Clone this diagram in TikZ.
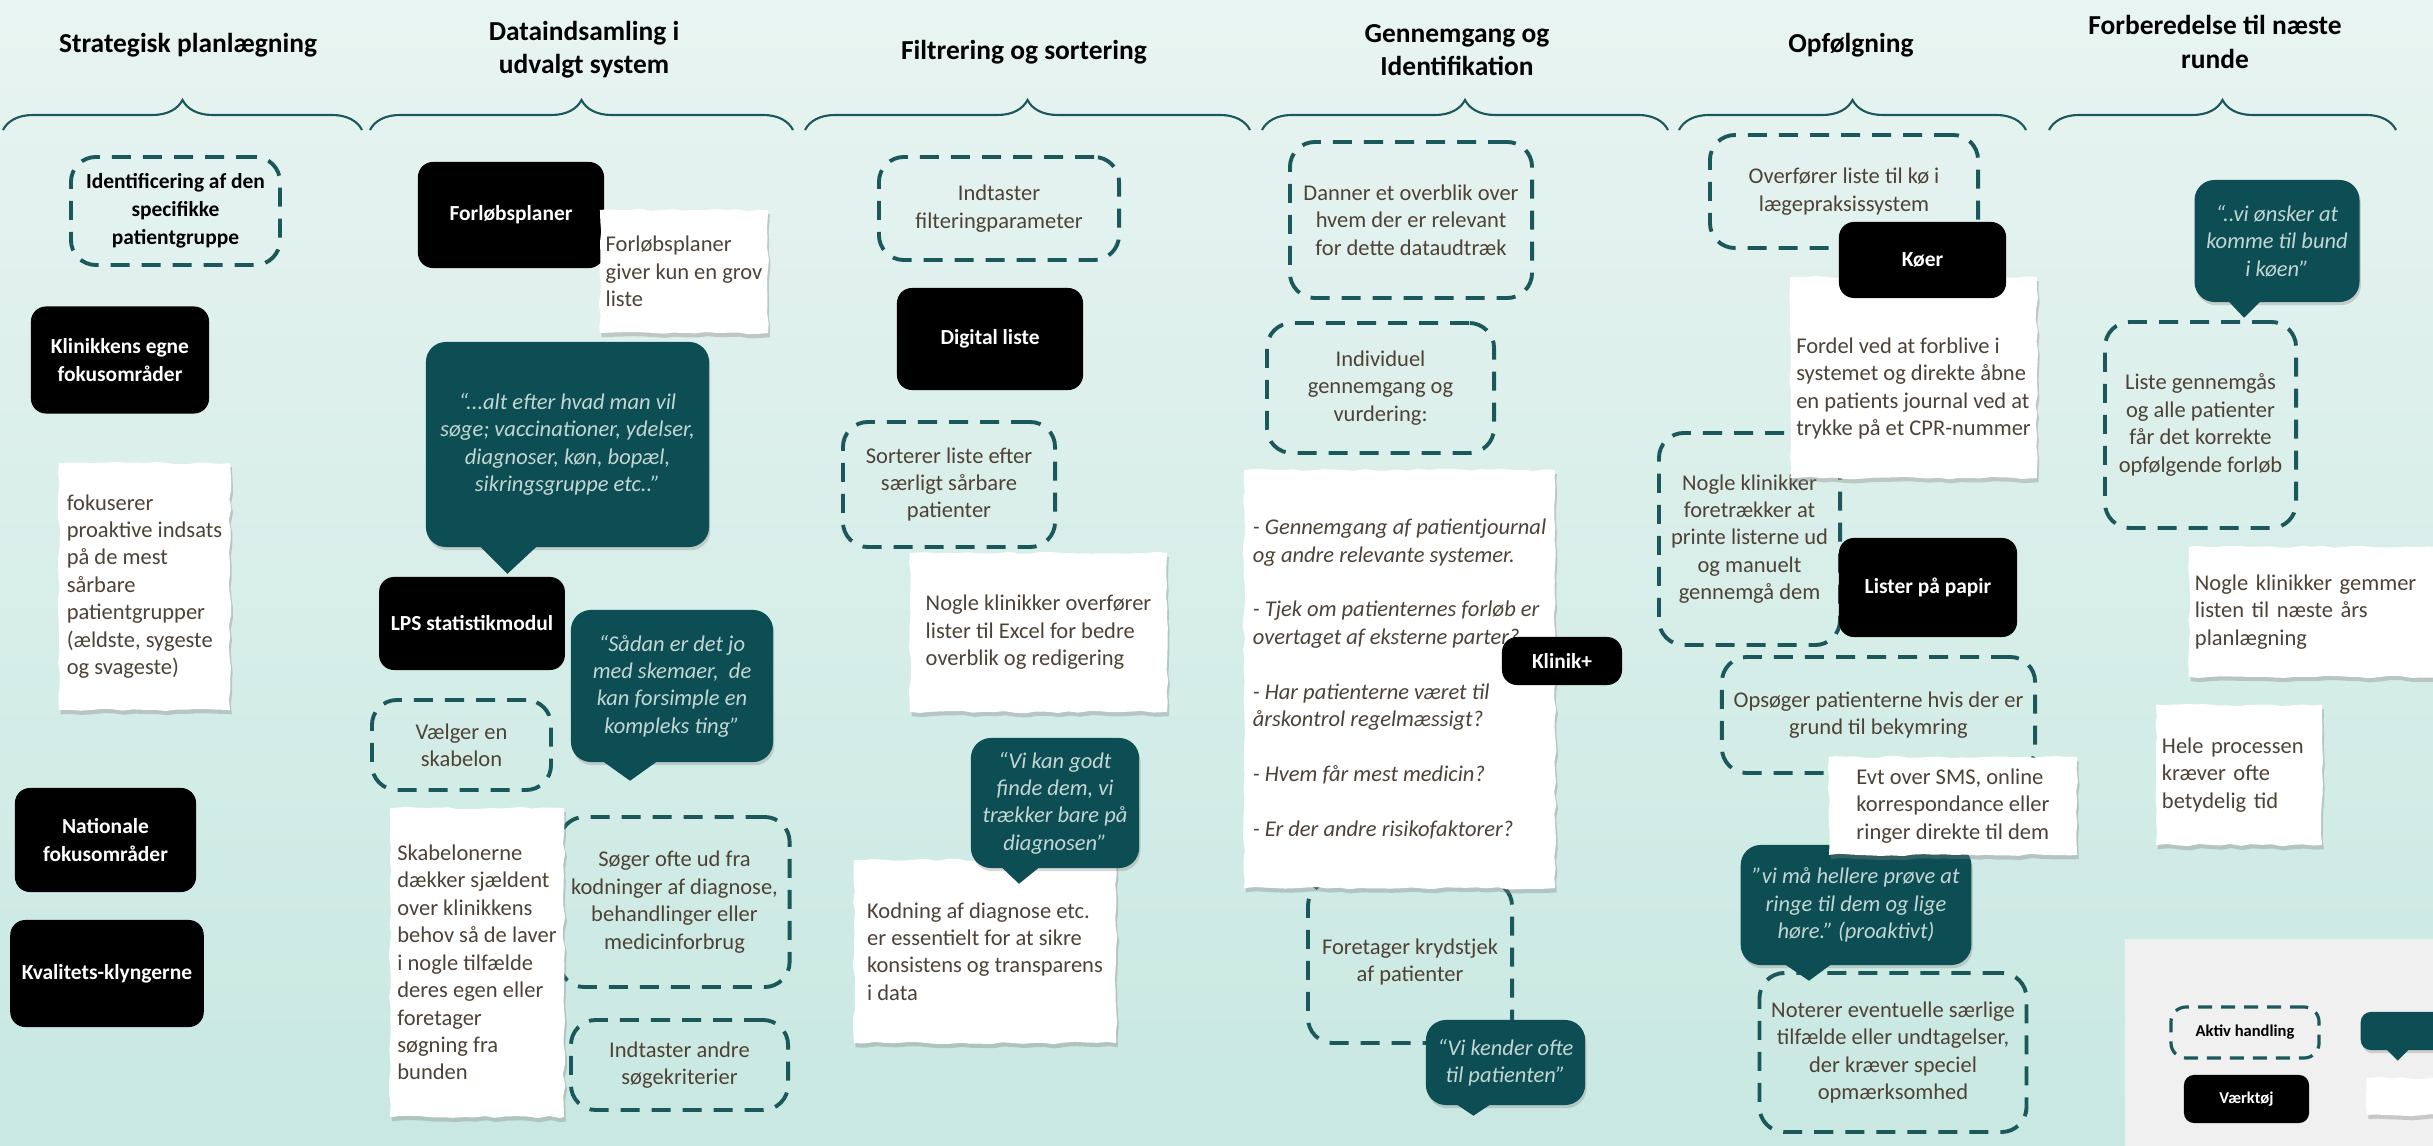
\documentclass[tikz,border=0pt]{standalone}
\usepackage{fontspec}
\setmainfont{Carlito}
\usetikzlibrary{calc, shadows, decorations.pathreplacing, decorations.pathmorphing}

\definecolor{petrol}{RGB}{12,78,84}
\definecolor{dashc}{RGB}{27,88,92}
\definecolor{txt}{RGB}{78,66,54}
\definecolor{quotetxt}{RGB}{196,214,212}
\definecolor{bgtop}{RGB}{232,244,241}
\definecolor{bgbot}{RGB}{200,232,225}
\definecolor{legendbg}{RGB}{240,240,240}

\newcommand{\bodyfs}{\fontsize{6.4}{7.8}\selectfont}
\newcommand{\headfs}{\fontsize{7.8}{9.5}\selectfont}
\newcommand{\toolfs}{\fontsize{6.1}{7.9}\selectfont}
\newcommand{\legfs}{\fontsize{4.7}{5.5}\selectfont}

\tikzset{
	phase/.style={
		font=\headfs\bfseries,
		align=center
	},
	bracket/.style={
		draw=dashc,
		line width=0.6pt,
		decorate,
		decoration={brace, amplitude=0.3cm}
	},
	aktiv/.style={
		draw=dashc,
		line width=1.1pt,
		dash pattern=on 0.19cm off 0.12cm,
		rounded corners=0.25cm,
		font=\bodyfs,
		text=txt,
		align=center
	},
	tool/.style={
		fill=black,
		rounded corners=0.15cm,
		font=\toolfs\bfseries,
		text=white,
		align=center
	},
	quote/.style={
		fill=petrol,
		rounded corners=0.2cm,
		font=\bodyfs\itshape,
		text=quotetxt,
		align=center,
		drop shadow={shadow xshift=0.4pt, shadow yshift=-0.9pt, opacity=0.3}
	},
	note/.style={
		fill=white,
		decorate,
		decoration={random steps, segment length=3pt, amplitude=0.35pt},
		drop shadow={shadow xshift=0.5pt, shadow yshift=-1.2pt, opacity=0.35},
		font=\bodyfs,
		text=txt,
		align=left,
		inner xsep=0.06cm
	}
}

\begin{document}
\pgfmathsetseed{7}
\begin{tikzpicture}[x=0.01cm, y=-0.01cm]
\useasboundingbox (0,0) rectangle (2433,1146);
\clip (0,0) rectangle (2433,1146);
\shade[top color=bgtop, bottom color=bgbot] (0,0) rectangle (2433,1146);

% phases
\node[phase] (ph1) at (188,45) {Strategisk planlægning};
\node[phase] (ph2) at (584,50) {Dataindsamling i\\udvalgt system};
\node[phase] (ph3) at (1024,52) {Filtrering og sortering};
\node[phase] (ph4) at (1457,50) {Gennemgang og\\Identifikation};
\node[phase] (ph5) at (1851,45) {Opfølgning};
\node[phase] (ph6) at (2215,42) {Forberedelse til næste\\runde};

% braces under the phases
\foreach \a/\b in {3/362, 370/793, 805/1250, 1262/1668, 1679/2026, 2049/2396} {
	\draw[bracket] (\a,130) -- (\b,130);
}

% strategisk planlaegning
\node[aktiv, font=\toolfs\bfseries, text=black, minimum width=2.09cm, minimum height=1.08cm] (idf) at (175.5,211) {Identificering af den\\specifikke\\patientgruppe};
\node[tool, minimum width=1.78cm, minimum height=1.07cm] (klin) at (120,360) {Klinikkens egne\\fokusområder};
\node[note, minimum width=1.71cm, minimum height=2.47cm] (fokus) at (144.5,586.5) {fokuserer\\proaktive indsats\\på de mest\\sårbare\\patientgrupper\\(ældste, sygeste\\og svageste)};
\node[tool, minimum width=1.81cm, minimum height=1.04cm] (nat) at (105.5,840) {Nationale\\fokusområder};
\node[tool, minimum width=1.84cm, minimum height=1.07cm] (kval) at (107,973.5) {Kvalitets-klyngerne};

% dataindsamling
\node[tool, minimum width=1.86cm, minimum height=1.06cm] (fpl) at (511,215) {Forløbsplaner};
\node[note, inner xsep=0.02cm, minimum width=1.68cm, minimum height=1.23cm] (grov) at (684,271.5) {Forløbsplaner\\giver kun en grov\\liste};
\node[quote, minimum width=2.83cm, minimum height=2.05cm] (q1) at (567.5,444.5) {“...alt efter hvad man vil\\søge; vaccinationer, ydelser,\\diagnoser, køn, bopæl,\\sikringsgruppe etc..”};
\node[tool, minimum width=1.84cm, minimum height=0.93cm] (lps) at (472,623.5) {LPS statistikmodul};
\node[quote, minimum width=2.02cm, minimum height=1.52cm] (q2) at (672,686) {“Sådan er det jo\\med skemaer,~ de\\kan forsimple en\\kompleks ting”};
\node[aktiv, minimum width=1.79cm, minimum height=0.90cm] (skab) at (461.5,745) {Vælger en\\skabelon};
\node[aktiv, minimum width=2.27cm, minimum height=1.70cm] (soeg) at (674.5,902) {Søger ofte ud fra\\kodninger af diagnose,\\behandlinger eller\\medicinforbrug};
\node[aktiv, minimum width=2.17cm, minimum height=0.90cm] (andre) at (679.5,1065) {Indtaster andre\\søgekriterier};
\node[note, minimum width=1.74cm, minimum height=3.09cm] (egen) at (477,962.5) {Skabelonerne\\dækker sjældent\\over klinikkens\\behov så de laver\\i nogle tilfælde\\deres egen eller\\foretager\\søgning fra\\bunden};

% filtrering og sortering
\node[aktiv, minimum width=2.40cm, minimum height=1.03cm] (filt) at (999,208.5) {Indtaster\\filteringparameter};
\node[tool, minimum width=1.86cm, minimum height=1.02cm] (dig) at (990,339) {Digital liste};
\node[aktiv, minimum width=2.12cm, minimum height=1.25cm] (sort) at (949,484.5) {Sorterer liste efter\\særligt sårbare\\patienter};
\node[note, minimum width=2.57cm, minimum height=1.59cm] (excel) at (1038.5,632.5) {Nogle klinikker overfører\\lister til Excel for bedre\\overblik og redigering};
\node[note, minimum width=2.62cm, minimum height=1.83cm] (kod) at (985,951.5) {Kodning af diagnose etc.\\er essentielt for at sikre\\konsistens og transparens\\i data};
\node[quote, minimum width=1.68cm, minimum height=1.30cm] (q3) at (1055,803) {“Vi kan godt\\finde dem, vi\\trækker bare på\\diagnosen”};

% gennemgang og identifikation
\node[aktiv, minimum width=2.42cm, minimum height=1.56cm] (danner) at (1411,220) {Danner et overblik over\\hvem der er relevant\\for dette dataudtræk};
\node[aktiv, minimum width=2.27cm, minimum height=1.30cm] (indiv) at (1380.5,388) {Individuel\\gennemgang og\\vurdering:};
\node[aktiv, minimum width=2.04cm, minimum height=1.62cm] (kryds) at (1410,962) {Foretager krydstjek\\af patienter};
\node[note, font=\bodyfs\itshape, minimum width=3.11cm, minimum height=4.18cm] (tjek) at (1399.5,679) {- Gennemgang af patientjournal\\og andre relevante systemer.\\[7.8pt]- Tjek om patienternes forløb er\\overtaget af eksterne parter?\\[7.8pt]- Har patienterne været til\\årskontrol regelmæssigt?\\[7.8pt]- Hvem får mest medicin?\\[7.8pt]- Er der andre risikofaktorer?};
\node[tool, minimum width=1.20cm, minimum height=0.48cm] (klinik) at (1562,661) {Klinik+};
\node[quote, minimum width=1.55cm, minimum height=0.85cm] (q4) at (1505.5,1062.5) {“Vi kender ofte\\til patienten”};

% opfoelgning
\node[aktiv, minimum width=2.68cm, minimum height=1.13cm] (overf) at (1844,191.5) {Overfører liste til kø i\\lægepraksissystem};
\node[aktiv, minimum width=1.81cm, minimum height=2.12cm] (print) at (1749.5,539) {Nogle klinikker\\foretrækker at\\printe listerne ud\\og manuelt\\gennemgå dem};
\node[note, minimum width=2.45cm, minimum height=2.01cm] (fordel) at (1913.5,377.5) {\\[3pt]Fordel ved at forblive i\\systemet og direkte åbne\\en patients journal ved at\\trykke på et CPR-nummer};
\node[tool, minimum width=1.67cm, minimum height=0.76cm] (koer) at (1922.5,260) {Køer};
\node[tool, minimum width=1.78cm, minimum height=0.99cm] (papir) at (1928,587.5) {Lister på papir};
\node[aktiv, minimum width=3.01cm, minimum height=1.16cm] (opsoeg) at (1878.5,715) {Opsøger patienterne hvis der er\\grund til bekymring};
\node[quote, minimum width=2.28cm, minimum height=1.20cm] (q5) at (1856,905) {"vi må hellere prøve at\\ringe til dem og lige\\høre." (proaktivt)};
\node[note, minimum width=2.48cm, minimum height=0.92cm] (sms) at (1953,806) {Evt over SMS, online\\korrespondance eller\\ringer direkte til dem};
\node[aktiv, minimum width=2.60cm, minimum height=1.59cm] (noter) at (1893,1052.5) {Noterer eventuelle særlige\\tilfælde eller undtagelser,\\der kræver speciel\\opmærksomhed};

% forberedelse til naeste runde
\node[quote, minimum width=1.56cm, minimum height=1.22cm] (q6) at (2277,241) {“..vi ønsker at\\komme til bund\\i køen”};
\node[aktiv, minimum width=1.91cm, minimum height=2.06cm] (liste) at (2200.5,425) {Liste gennemgås\\og alle patienter\\får det korrekte\\opfølgende forløb};
\node[note, text width=2.69cm, minimum height=1.30cm] (gem) at (2329.5,612) {Nogle klinikker gemmer\\listen til næste års\\planlægning};
\node[note, text width=1.54cm, minimum height=1.40cm] (hele) at (2239,775) {Hele processen\\kræver ofte\\betydelig tid};

% legend
\node[fill=legendbg, anchor=north west, minimum width=3.2cm, minimum height=2.2cm] (legend) at (2124,938) {};
\node[aktiv, font=\legfs\bfseries, text=black, line width=0.9pt, dash pattern=on 0.14cm off 0.09cm, rounded corners=0.15cm, minimum width=1.48cm, minimum height=0.51cm] (lakt) at (2245,1032.5) {Aktiv handling};
\node[tool, font=\legfs\bfseries, rounded corners=0.1cm, minimum width=1.25cm, minimum height=0.48cm] (lvaerk) at (2246.5,1099) {Værktøj};
\node[quote, rounded corners=0.1cm, anchor=west, minimum width=1.3cm, minimum height=0.38cm] (lcit) at (2360,1031) {};
\node[note, anchor=west, minimum width=1.2cm, minimum height=0.37cm] (lnote) at (2366,1096.5) {};

% speech bubble pointers
\foreach \q/\a/\t/\b/\d in {q1/-88/-60/-30/26, q2/-70/-42/-14/18, q3/-54/-36/-15/15, q4/-50/-32/-14/10, q5/-72/-47/-24/15, q6/-49/-33/-16/15, lcit/-40/-28/-16/10} {
	\fill[petrol] ($(\q.south)+(\a,-2)$) -- ($(\q.south)+(\t,\d)$) -- ($(\q.south)+(\b,-2)$) -- cycle;
}
\end{tikzpicture}
\end{document}
